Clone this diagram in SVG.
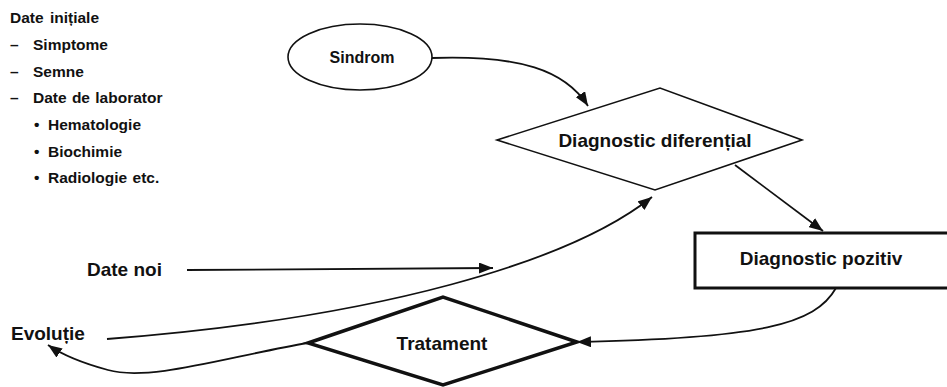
<svg xmlns="http://www.w3.org/2000/svg" width="947" height="387" viewBox="0 0 947 387">
<style>
  text { font-family: "Liberation Sans", Arial, sans-serif; font-weight: bold; font-size: 19px; fill: #111; }
  .c { text-anchor: middle; }
  .list { font-size: 15.5px; }
  .shape { fill: #fff; stroke: #111; stroke-width: 1.6; }
  .thick { fill: #fff; stroke: #111; stroke-width: 3.5; stroke-linejoin: miter; }
  .conn { fill: none; stroke: #111; stroke-width: 1.8; }
</style>
<defs>
  <marker id="arr" markerUnits="userSpaceOnUse" markerWidth="15" markerHeight="11" refX="14" refY="5.5" orient="auto">
    <path d="M0,0 L14,5.5 L0,11 z" fill="#111"/>
  </marker>
</defs>
<rect width="947" height="387" fill="#fff"/>

<g id="date-initiale" class="list">
  <text class="list" x="10" y="23" word-spacing="2">Date inițiale</text>
  <text class="list" y="50"><tspan x="10">–</tspan><tspan x="33">Simptome</tspan></text>
  <text class="list" y="77"><tspan x="10">–</tspan><tspan x="33">Semne</tspan></text>
  <text class="list" y="103" word-spacing="1"><tspan x="10">–</tspan><tspan x="33">Date de laborator</tspan></text>
  <text class="list" y="130"><tspan x="34">•</tspan><tspan x="48">Hematologie</tspan></text>
  <text class="list" y="157"><tspan x="34">•</tspan><tspan x="48">Biochimie</tspan></text>
  <text class="list" y="183" word-spacing="1"><tspan x="34">•</tspan><tspan x="48">Radiologie etc.</tspan></text>
</g>

<g id="connectors">
  <path class="conn" d="M432,58 C520,55 565,70 588,106" marker-end="url(#arr)"/>
  <path class="conn" d="M735,165 L823,231" marker-end="url(#arr)"/>
  <path class="conn" d="M187,270 L493,268" marker-end="url(#arr)"/>
  <path class="conn" d="M107,339 C380,318 570,262 652,197" marker-end="url(#arr)"/>
  <path class="conn" d="M836,288 C815,325 760,338 577,342" marker-end="url(#arr)"/>
  <path class="conn" d="M308,343 C230,356 150,382 108,370 C82,363 64,356 48,345" marker-end="url(#arr)"/>
</g>

<g id="sindrom">
  <ellipse class="shape" cx="360" cy="57" rx="72" ry="33"/>
  <text class="c" x="362" y="63" style="font-size:16px">Sindrom</text>
</g>

<g id="diagnostic-diferential">
  <polygon class="shape" points="497,140 660,88 802,140 655,190"/>
  <text class="c" x="655" y="147">Diagnostic diferențial</text>
</g>

<g id="diagnostic-pozitiv">
  <rect x="695" y="233" width="262" height="55" fill="#fff" stroke="#111" stroke-width="3"/>
  <text class="c" x="821" y="265">Diagnostic pozitiv</text>
</g>

<g id="tratament">
  <polygon class="thick" points="308,343 443,297 577,342 443,385"/>
  <text class="c" x="442" y="350">Tratament</text>
</g>

<g id="date-noi">
  <text x="87" y="276">Date noi</text>
</g>

<g id="evolutie">
  <text x="11" y="340">Evoluție</text>
</g>
</svg>
